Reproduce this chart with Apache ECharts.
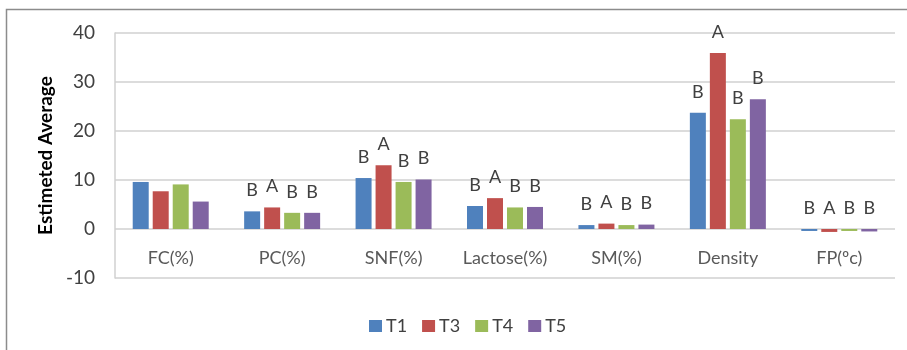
<!DOCTYPE html>
<html>
<head>
<meta charset="utf-8">
<script src="https://cdn.jsdelivr.net/npm/echarts@6/dist/echarts.min.js"></script>
<style>
  html, body { margin: 0; padding: 0; background: #fff; }
  #chart { width: 907px; height: 350px; }
</style>
</head>
<body>
<div id="chart"></div>
<script>
const categories = ["FC(%)", "PC(%)", "SNF(%)", "Lactose(%)", "SM(%)", "Density", "FP(ºc)"];
const seriesNames = ["T1", "T3", "T4", "T5"];
const t1 = [9.6, 3.6, 10.4, 4.7, 0.8, 23.7, -0.4];
const t3 = [7.7, 4.4, 13.0, 6.3, 1.1, 35.9, -0.6];
const t4 = [9.1, 3.3, 9.6, 4.4, 0.8, 22.4, -0.4];
const t5 = [5.6, 3.3, 10.1, 4.5, 0.9, 26.5, -0.5];
const letters1 = ["", "B", "B", "B", "B", "B", "B"];
const letters3 = ["", "A", "A", "A", "A", "A", "A"];
const letters4 = ["", "B", "B", "B", "B", "B", "B"];
const letters5 = ["", "B", "B", "B", "B", "B", "B"];
const colors = ["#4F81BD", "#C0504D", "#9BBB59", "#8064A2"];

const values = [t1, t3, t4, t5];
const letters = [letters1, letters3, letters4, letters5];
const font = "Lato, 'Open Sans', sans-serif";

let myChart = echarts.init(document.getElementById("chart"));
let option = {
  backgroundColor: "#fff",
  animation: false,
  graphic: [
    {
      type: "rect",
      shape: { x: 6.5, y: 9.5, width: 920, height: 360 },
      style: { fill: "none", stroke: "#8c8c8c", lineWidth: 1.5 },
      z: 100
    }
  ],
  legend: {
    data: seriesNames,
    top: 312,
    left: 364,
    itemWidth: 13,
    itemHeight: 12,
    itemGap: 15,
    icon: "rect",
    textStyle: { fontFamily: font, fontSize: 18, color: "#404040", padding: [0, 0, 0, -1] }
  },
  grid: { left: 115, right: 12, top: 33, bottom: 72, containLabel: false },
  xAxis: {
    type: "category",
    data: categories,
    position: "bottom",
    axisLine: { show: false },
    axisTick: { show: false },
    axisLabel: {
      fontFamily: font, fontSize: 18, color: "#595959",
      margin: -20,
      verticalAlign: "middle"
    }
  },
  yAxis: {
    type: "value",
    min: -10,
    max: 40,
    interval: 10,
    name: "Estimeted Average",
    nameLocation: "middle",
    nameGap: 58,
    nameRotate: 90,
    nameTextStyle: { fontFamily: font, fontSize: 19, fontWeight: "bold", color: "#000" },
    axisLine: { show: true, lineStyle: { color: "#d0d0d0", width: 1.5 } },
    axisTick: { show: false },
    axisLabel: { fontFamily: font, fontSize: 19, color: "#404040", margin: 20 },
    splitLine: { lineStyle: { color: "#d0d0d0", width: 1.5 } }
  },
  series: seriesNames.map((name, i) => ({
    name: name,
    type: "bar",
    barWidth: 16,
    barGap: "25%",
    itemStyle: { color: colors[i] },
    label: {
      show: true,
      position: "top",
      distance: 12,
      fontFamily: font,
      fontSize: 18,
      color: "#404040",
      formatter: p => letters[i][p.dataIndex]
    },
    data: values[i]
  }))
};
myChart.setOption(option);
</script>
</body>
</html>
